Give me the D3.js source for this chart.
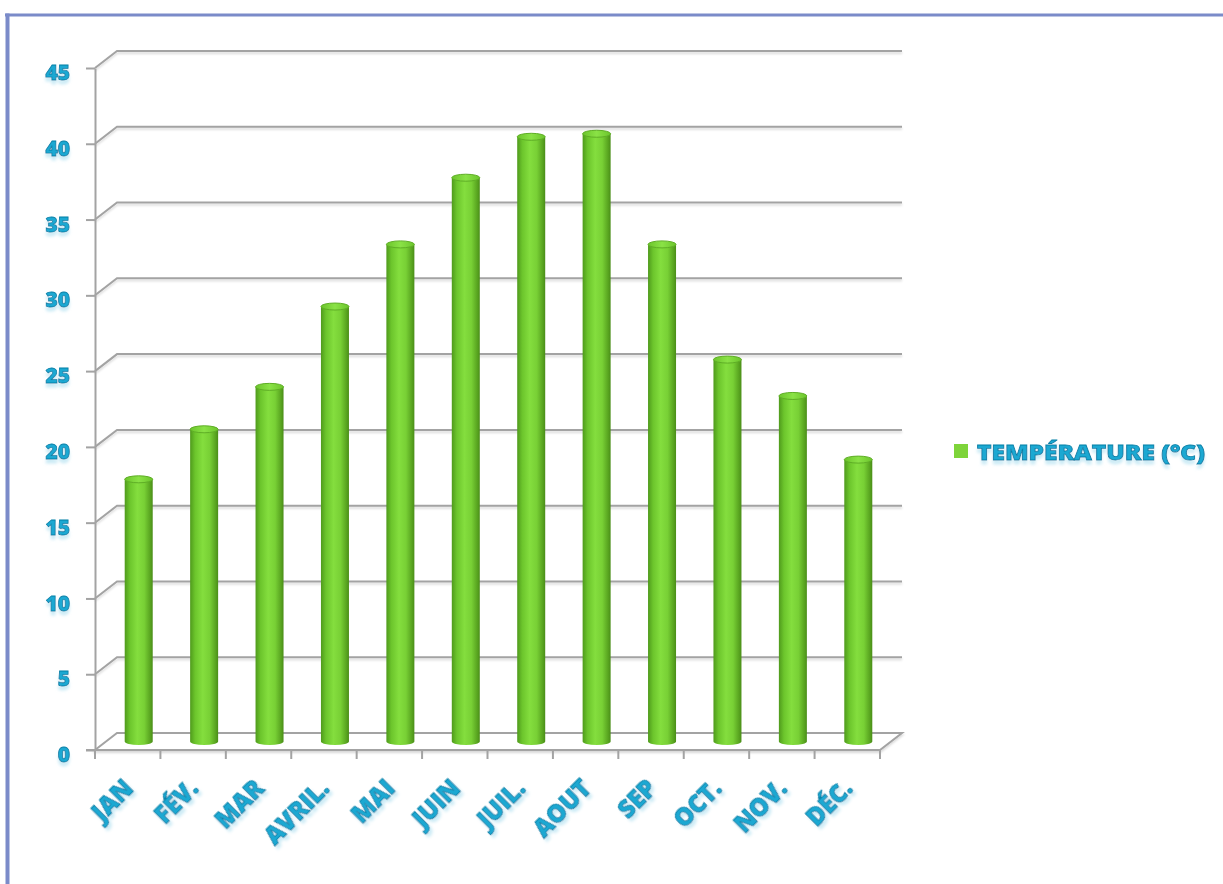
<!DOCTYPE html>
<html>
<head>
<meta charset="utf-8">
<script src="https://cdn.jsdelivr.net/npm/d3@7"></script>
<style>
  html, body { margin: 0; padding: 0; background: #ffffff; }
  svg { display: block; }
</style>
</head>
<body>
<svg id="chart" width="1223" height="884"></svg>
<script>
// ---- data ----
const months = ["JAN", "FÉV.", "MAR", "AVRIL.", "MAI", "JUIN", "JUIL.", "AOUT", "SEP", "OCT.", "NOV.", "DÉC."];
const temperatures = [17.3, 20.6, 23.4, 28.7, 32.8, 37.2, 39.9, 40.1, 32.8, 25.2, 22.8, 18.6];
const yTicks = [0, 5, 10, 15, 20, 25, 30, 35, 40, 45];
const seriesName = "TEMPÉRATURE (°C)";

// ---- layout ----
const W = 1223, H = 884;
const front = { left: 95, right: 880, top: 68, bottom: 750 };
const depth = { dx: 22, dy: -17 };
const barWidth = 28;
const textFill = "#1aa8d2", textStroke = "#0a7fa6";
const fontFam = "'Open Sans', 'DejaVu Sans', sans-serif";

const svg = d3.select("#chart");
const defs = svg.append("defs");

// gradients
const barGrad = defs.append("linearGradient").attr("id", "barGrad").attr("x1", "0%").attr("x2", "100%");
[["0%", "#4f9a1c"], ["18%", "#6cc52c"], ["45%", "#84de3e"], ["70%", "#78d035"], ["92%", "#57a21f"], ["100%", "#4a8d18"]]
  .forEach(([o, c]) => barGrad.append("stop").attr("offset", o).attr("stop-color", c));
const capGrad = defs.append("linearGradient").attr("id", "capGrad").attr("x1", "0%").attr("x2", "100%");
[["0%", "#6cc52c"], ["50%", "#8ae246"], ["100%", "#6cc52c"]]
  .forEach(([o, c]) => capGrad.append("stop").attr("offset", o).attr("stop-color", c));

// text glow / reflection
const f = defs.append("filter").attr("id", "txtGlow").attr("x", "-20%").attr("y", "-20%").attr("width", "140%").attr("height", "160%");
f.append("feGaussianBlur").attr("in", "SourceAlpha").attr("stdDeviation", 1.6).attr("result", "b");
f.append("feOffset").attr("in", "b").attr("dy", 4).attr("result", "o");
f.append("feFlood").attr("flood-color", "#bfe6f3").attr("flood-opacity", 0.8);
f.append("feComposite").attr("in2", "o").attr("operator", "in").attr("result", "s");
const m = f.append("feMerge");
m.append("feMergeNode").attr("in", "s");
m.append("feMergeNode").attr("in", "SourceGraphic");

const gridShadow = defs.append("filter").attr("id", "gridShadow").attr("x", "-5%").attr("y", "-50%").attr("width", "110%").attr("height", "300%");
gridShadow.append("feGaussianBlur").attr("in", "SourceAlpha").attr("stdDeviation", 0.8).attr("result", "b");
gridShadow.append("feOffset").attr("in", "b").attr("dy", 1.5).attr("result", "o");
gridShadow.append("feFlood").attr("flood-color", "#000").attr("flood-opacity", 0.15);
gridShadow.append("feComposite").attr("in2", "o").attr("operator", "in").attr("result", "s");
const gm = gridShadow.append("feMerge");
gm.append("feMergeNode").attr("in", "s");
gm.append("feMergeNode").attr("in", "SourceGraphic");

// ---- scales ----
const x = d3.scaleBand().domain(months).range([front.left, front.right]).padding(0);
const y = d3.scaleLinear().domain([0, 45]).range([front.bottom, front.top]);

// ---- frame ----
svg.append("line").attr("x1", 5).attr("x2", W).attr("y1", 15).attr("y2", 15)
  .attr("stroke", "#7b8bc9").attr("stroke-width", 3);
svg.append("line").attr("x1", 7.5).attr("x2", 7.5).attr("y1", 13.5).attr("y2", H)
  .attr("stroke", "#7b8bc9").attr("stroke-width", 4);

const gridColor = "#a3a3a3";
const gGrid = svg.append("g").attr("filter", "url(#gridShadow)");

// back wall gridlines + side diagonals
yTicks.forEach(t => {
  const yy = y(t);
  if (t > 0) {
    gGrid.append("path")
      .attr("d", `M${front.left},${yy} L${front.left + depth.dx},${yy + depth.dy} L${front.right + depth.dx},${yy + depth.dy}`)
      .attr("fill", "none").attr("stroke", gridColor).attr("stroke-width", 2);
  }
});
// floor
const y0 = y(0);
gGrid.append("path")
  .attr("d", `M${front.left},${y0} L${front.left + depth.dx},${y0 + depth.dy} L${front.right + depth.dx},${y0 + depth.dy} L${front.right},${y0} Z`)
  .attr("fill", "#ffffff").attr("stroke", gridColor).attr("stroke-width", 2);

// y axis
const yAxis = d3.axisLeft(y).tickValues(yTicks).tickSize(9).tickPadding(16).tickSizeOuter(0);
const gy = svg.append("g").attr("transform", `translate(${front.left},0)`).call(yAxis);
gy.select(".domain").attr("stroke", gridColor).attr("stroke-width", 2);
gy.selectAll(".tick line").attr("stroke", gridColor).attr("stroke-width", 2);
gy.selectAll(".tick text")
  .attr("font-family", fontFam).attr("font-weight", 800).attr("font-size", 21)
  .attr("fill", textFill).attr("stroke", textStroke).attr("stroke-width", 0.8)
  .attr("dy", "0.55em").attr("filter", "url(#txtGlow)");

// x axis baseline + ticks at band boundaries
const gx = svg.append("g");
gx.append("line").attr("x1", front.left - 9).attr("x2", front.right).attr("y1", y0).attr("y2", y0)
  .attr("stroke", gridColor).attr("stroke-width", 2);
const boundaries = months.map(mm => x(mm)).concat([x.range()[1]]);
gx.selectAll("line.tk").data(boundaries).join("line").attr("class", "tk")
  .attr("x1", d => d).attr("x2", d => d).attr("y1", y0).attr("y2", y0 + 9)
  .attr("stroke", gridColor).attr("stroke-width", 2);

// x labels
gx.selectAll("text.xl").data(months).join("text").attr("class", "xl")
  .attr("transform", d => `translate(${x(d) + x.bandwidth() / 2 + 7},${y0 + 40}) rotate(-45)`)
  .attr("text-anchor", "end")
  .attr("font-family", fontFam).attr("font-weight", 800).attr("font-size", 24)
  .attr("fill", textFill).attr("stroke", textStroke).attr("stroke-width", 0.8)
  .attr("filter", "url(#txtGlow)")
  .text(d => d);

// ---- bars (cylinders) ----
const mid = { dx: depth.dx / 2, dy: depth.dy / 2 };
const ry = 3.5;
const bars = svg.append("g").selectAll("g.bar").data(months.map((mm, i) => ({ m: mm, v: temperatures[i] })))
  .join("g").attr("class", "bar");
bars.each(function (d) {
  const g = d3.select(this);
  const cx = x(d.m) + x.bandwidth() / 2 + mid.dx;
  const yb = y(0) + mid.dy;
  const yt = y(d.v) + mid.dy;
  g.append("path")
    .attr("d", `M${cx - barWidth / 2},${yt} L${cx - barWidth / 2},${yb} A${barWidth / 2},${ry} 0 0 0 ${cx + barWidth / 2},${yb} L${cx + barWidth / 2},${yt} Z`)
    .attr("fill", "url(#barGrad)");
  g.append("ellipse").attr("cx", cx).attr("cy", yt).attr("rx", barWidth / 2).attr("ry", ry)
    .attr("fill", "url(#capGrad)").attr("stroke", "#5fae26").attr("stroke-width", 1);
});

// ---- legend ----
const leg = svg.append("g").attr("transform", "translate(954,444)");
leg.append("rect").attr("width", 14).attr("height", 14).attr("fill", "#7ed43a");
leg.append("text").attr("x", 23).attr("y", 16)
  .attr("font-family", fontFam).attr("font-weight", 800).attr("font-size", 21)
  .attr("fill", textFill).attr("stroke", textStroke).attr("stroke-width", 0.8)
  .attr("filter", "url(#txtGlow)")
  .attr("textLength", 228).attr("lengthAdjust", "spacingAndGlyphs")
  .text(seriesName);
</script>
</body>
</html>
